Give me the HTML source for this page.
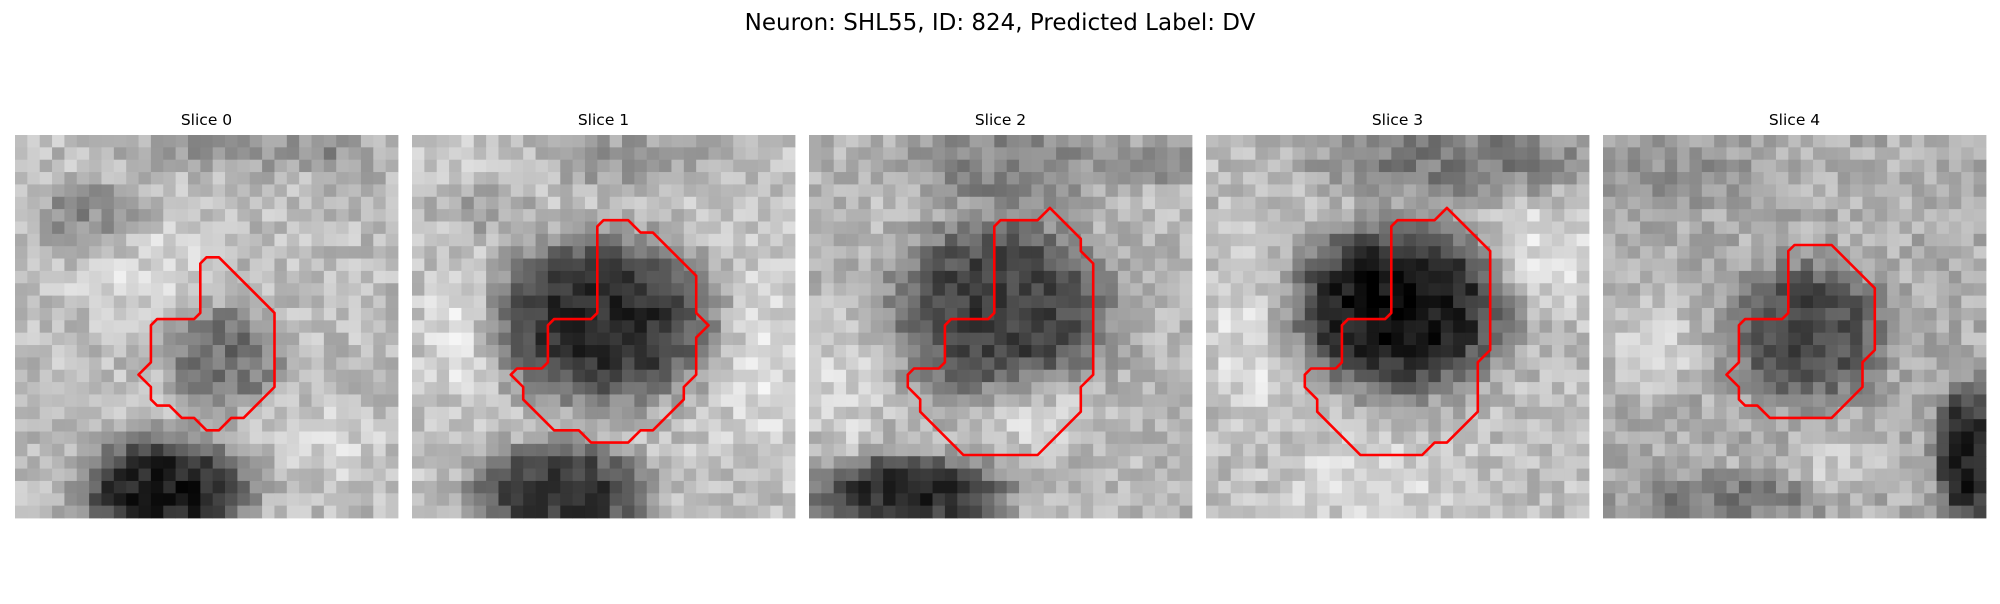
<!DOCTYPE html>
<html><head><meta charset="utf-8">
<style>
html,body{margin:0;padding:0;background:#fff;}
body{width:2000px;height:600px;overflow:hidden;font-family:"DejaVu Sans","Liberation Sans",sans-serif;}
</style></head>
<body>
<svg id="fig" width="2000" height="600" xmlns="http://www.w3.org/2000/svg">
<text x="1000" y="30" text-anchor="middle" font-size="23" font-family="DejaVu Sans, Liberation Sans, sans-serif" fill="#000">Neuron: SHL55, ID: 824, Predicted Label: DV</text>
</svg>
<script>
// panel layout data
const sliceNames = ["Slice 0","Slice 1","Slice 2","Slice 3","Slice 4"];
const gridN = 31;
// background base grey per slice
const baseGrey = [0.74, 0.76, 0.72, 0.74, 0.68];
// dark blobs per slice: [cx, cy, rx, ry, strength] in cell units (flat-topped profile)
const blobs0 = [[12,29,6.5,4.5,0.62],[17,18,4.5,4,0.3],[6,7,4,3,0.2],[18,1,8,2,0.15],[27,2,3,2,0.12]];
const blobs1 = [[15.5,15,8.5,6.5,0.6],[12,29,7,4,0.55],[18,2,7,2.5,0.15],[6,6,4,2,0.12]];
const blobs2 = [[15.5,14,8.5,7,0.48],[8,29,7.5,3,0.55],[16,2.5,8,3,0.2],[28,2,3,2,0.15]];
const blobs3 = [[15.5,14,8.5,6.5,0.68],[20,2,11,3,0.25]];
const blobs4 = [[16.5,16,6,5.5,0.4],[29.5,26,2.5,5.5,0.58],[10,29.5,8,2,0.2],[6,3,6,3,0.12]];
// bright patches per slice: [cx, cy, rx, ry, strength]
const lights0 = [[10,11,6,4,0.1],[26,25,4,3,0.08]];
const lights1 = [[4,16,3,5,0.12],[28,18,3,8,0.1]];
const lights2 = [[18,22,4,3,0.15],[3,20,3,6,0.1]];
const lights3 = [[4,16,4,7,0.12],[27,10,4,4,0.14],[14,28,8,3,0.1]];
const lights4 = [[4,17,4,4,0.12],[19,27,4,2,0.1]];
const allBlobs = [blobs0,blobs1,blobs2,blobs3,blobs4];
const allLights = [lights0,lights1,lights2,lights3,lights4];
// contour vertices per slice, in cell units [u, v]
const contour0 = [[15,10.4],[15.5,9.9],[16.5,9.9],[21,14.4],[21,20.4],[18.5,22.9],[17.5,22.9],[16.5,23.9],[15.5,23.9],[14.5,22.9],[13.5,22.9],[12.5,21.9],[11.5,21.9],[11,21.4],[11,20.4],[10,19.4],[11,18.4],[11,15.4],[11.5,14.9],[14.5,14.9],[15,14.4]];
const contour1 = [[15,7.4],[15.5,6.9],[17.5,6.9],[18.5,7.9],[19.5,7.9],[23,11.4],[23,14.4],[24,15.4],[23,16.4],[23,19.4],[22,20.4],[22,21.4],[19.5,23.9],[18.5,23.9],[17.5,24.9],[14.5,24.9],[13.5,23.9],[11.5,23.9],[9,21.4],[9,20.4],[8,19.4],[8.5,18.9],[10.5,18.9],[11,18.4],[11,15.4],[11.5,14.9],[14.5,14.9],[15,14.4]];
const contour2 = [[15,7.4],[15.5,6.9],[18.5,6.9],[19.5,5.9],[22,8.4],[22,9.4],[23,10.4],[23,19.4],[22,20.4],[22,22.4],[18.5,25.9],[12.5,25.9],[9,22.4],[9,21.4],[8,20.4],[8,19.4],[8.5,18.9],[10.5,18.9],[11,18.4],[11,15.4],[11.5,14.9],[14.5,14.9],[15,14.4]];
const contour3 = [[15,7.4],[15.5,6.9],[18.5,6.9],[19.5,5.9],[23,9.4],[23,17.4],[22,18.4],[22,22.4],[19.5,24.9],[18.5,24.9],[17.5,25.9],[12.5,25.9],[9,22.4],[9,21.4],[8,20.4],[8,19.4],[8.5,18.9],[10.5,18.9],[11,18.4],[11,15.4],[11.5,14.9],[14.5,14.9],[15,14.4]];
const contour4 = [[15,9.4],[15.5,8.9],[18.5,8.9],[22,12.4],[22,17.4],[21,18.4],[21,20.4],[18.5,22.9],[13.5,22.9],[12.5,21.9],[11.5,21.9],[11,21.4],[11,20.4],[10,19.4],[11,18.4],[11,15.4],[11.5,14.9],[14.5,14.9],[15,14.4]];
const allContours = [contour0,contour1,contour2,contour3,contour4];

const NS = "http://www.w3.org/2000/svg";
const svg = document.getElementById("fig");
const panelLeft0 = 15, panelStep = 397, panelTop = 135, panelSize = 383;
const cell = panelSize / gridN;

function hash(i, j, k) {
  let h = (i * 374761393 + j * 668265263 + k * 2147483647) | 0;
  h = (h ^ (h >>> 13)) * 1274126177;
  h = h ^ (h >>> 16);
  return ((h >>> 0) % 1000) / 1000;
}
function field(list, x, y) {
  let s = 0;
  for (const b of list) {
    const dx = (x - b[0]) / b[2], dy = (y - b[1]) / b[3];
    const d2 = dx * dx + dy * dy;
    s += b[4] * Math.exp(-d2 * d2 * 0.8);
  }
  return s;
}
function xScale(p, u) { return panelLeft0 + p * panelStep + u * cell; }
function yScale(v) { return panelTop + v * cell; }

sliceNames.forEach((name, p) => {
  const g = document.createElementNS(NS, "g");
  
  
  svg.appendChild(g);

  const t = document.createElementNS(NS, "text");
  
  
  t.setAttribute("x", xScale(p, gridN / 2));
  t.setAttribute("y", 125);
  t.setAttribute("text-anchor", "middle");
  t.setAttribute("font-size", "15.5");
  t.setAttribute("font-family", "DejaVu Sans, Liberation Sans, sans-serif");
  t.textContent = name;
  g.appendChild(t);

  const img = document.createElementNS(NS, "g");
  
  
  g.appendChild(img);
  for (let j = 0; j < gridN; j++) {
    for (let i = 0; i < gridN; i++) {
      let v = baseGrey[p] - field(allBlobs[p], i + 0.5, j + 0.5) + field(allLights[p], i + 0.5, j + 0.5);
      v += (hash(i, j, p + 1) - 0.5) * 0.22;
      v = Math.max(0, Math.min(1, v));
      const c = Math.round(v * 255);
      const r = document.createElementNS(NS, "rect");
      r.setAttribute("x", xScale(p, i).toFixed(2));
      r.setAttribute("y", yScale(j).toFixed(2));
      r.setAttribute("width", (cell + 0.4).toFixed(2));
      r.setAttribute("height", (cell + 0.4).toFixed(2));
      r.setAttribute("fill", `rgb(${c},${c},${c})`);
      img.appendChild(r);
    }
  }

  const pl = document.createElementNS(NS, "polygon");
  
  
  pl.setAttribute("points", allContours[p].map(q => xScale(p, q[0]).toFixed(1) + "," + yScale(q[1]).toFixed(1)).join(" "));
  pl.setAttribute("fill", "none");
  pl.setAttribute("stroke", "#ff0000");
  pl.setAttribute("stroke-width", "2.6");
  pl.setAttribute("stroke-linejoin", "round");
  g.appendChild(pl);
});
</script>
</body></html>
